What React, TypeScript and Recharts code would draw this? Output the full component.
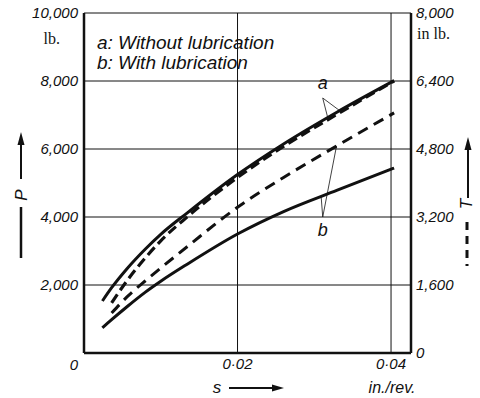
import React from 'react';
import { LineChart, Line, XAxis, YAxis, CartesianGrid, ReferenceLine, ReferenceDot } from 'recharts';

// feed s (in./rev.)
const feedRates = [0.0024, 0.0036, 0.0056, 0.008, 0.01, 0.0135, 0.02, 0.026, 0.033, 0.0404];
// thrust P (lb.) - solid lines
const thrustDry = [1530, 1920, 2480, 3060, 3490, 4130, 5250, 6150, 7090, 8010];
const thrustLub = [740, 980, 1360, 1790, 2110, 2620, 3500, 4160, 4790, 5440];
// torque T (in lb.) - dashed lines
const torqueDry = [null, 1180, 1700, 2240, 2640, 3210, 4130, 4860, 5620, 6400];
const torqueLub = [null, 940, 1320, 1700, 2000, 2510, 3430, 4130, 4880, 5650];

const sTicks = [0.02, 0.04];
const pTicks = [0, 2000, 4000, 6000, 8000, 10000];
const tTicks = [0, 1600, 3200, 4800, 6400, 8000];

const legendLines = ['a: Without lubrication', 'b: With lubrication'];

const rows = feedRates.map((s, i) => ({
  s,
  pDry: thrustDry[i],
  pLub: thrustLub[i],
  tDry: torqueDry[i],
  tLub: torqueLub[i],
}));

const FONT = '"Liberation Sans", Arial, sans-serif';
const INK = '#111';

const fmtNum = (v: number) => v.toLocaleString('en-US');

const LeftTick = (props: any) => {
  const { x, y, payload } = props;
  const zero = payload.value === 0;
  return (
    <text x={x} y={zero ? y + 12 : y} dy="0.36em" textAnchor="end"
      fontFamily={FONT} fontStyle="italic" fontSize={15} fill={INK}>
      {fmtNum(payload.value)}
    </text>
  );
};

const RightTick = (props: any) => {
  const { x, y, payload } = props;
  return (
    <text x={x} y={y} dy="0.36em" textAnchor="start"
      fontFamily={FONT} fontStyle="italic" fontSize={15} fill={INK}>
      {fmtNum(payload.value)}
    </text>
  );
};

const BottomTick = (props: any) => {
  const { x, y, payload } = props;
  return (
    <text x={x} y={y} dy="0.71em" textAnchor="middle"
      fontFamily={FONT} fontStyle="italic" fontSize={15} fill={INK}>
      {payload.value.toFixed(2).replace('.', '·')}
    </text>
  );
};

const letterLabel = (value: string) => ({
  value,
  position: 'center' as const,
  fontFamily: FONT,
  fontStyle: 'italic',
  fontSize: 18,
  fill: INK,
});

export default function App() {
  return (
    <div style={{ position: 'absolute', left: 0, top: 0, width: 480, height: 398, background: '#fff' }}>
      <LineChart width={480} height={398} data={rows}
        margin={{ top: 13, right: 10, bottom: 15, left: 10 }}>
        <CartesianGrid yAxisId="left" stroke="#111" strokeWidth={1} />
        <XAxis dataKey="s" type="number" domain={[0, 0.0426]} allowDataOverflow ticks={sTicks}
          tick={<BottomTick />} tickLine={false} tickSize={0} tickMargin={5} height={30}
          axisLine={{ stroke: INK, strokeWidth: 2.5 }} />
        <YAxis yAxisId="left" type="number" domain={[0, 10000]} ticks={pTicks} width={74}
          tick={<LeftTick />} tickLine={false} tickSize={0} tickMargin={6}
          axisLine={{ stroke: INK, strokeWidth: 2.5 }} />
        <YAxis yAxisId="right" orientation="right" type="number" domain={[0, 8000]} ticks={tTicks} width={59}
          tick={<RightTick />} tickLine={false} tickSize={0} tickMargin={5}
          axisLine={{ stroke: INK, strokeWidth: 2.5 }} />

        <Line yAxisId="left" dataKey="pDry" type="monotone" stroke={INK} strokeWidth={3}
          dot={false} isAnimationActive={false} />
        <Line yAxisId="left" dataKey="pLub" type="monotone" stroke={INK} strokeWidth={3}
          dot={false} isAnimationActive={false} />
        <Line yAxisId="right" dataKey="tDry" type="monotone" stroke={INK} strokeWidth={3.2}
          strokeDasharray="10 5" dot={false} isAnimationActive={false} />
        <Line yAxisId="right" dataKey="tLub" type="monotone" stroke={INK} strokeWidth={3}
          strokeDasharray="11 7" dot={false} isAnimationActive={false} />

        {/* leader lines for curve labels */}
        <ReferenceLine yAxisId="left" segment={[{ x: 0.0311, y: 7500 }, { x: 0.0333, y: 7130 }]} stroke={INK} strokeWidth={0.8} />
        <ReferenceLine yAxisId="left" segment={[{ x: 0.0311, y: 7500 }, { x: 0.0318, y: 6880 }]} stroke={INK} strokeWidth={0.8} />
        <ReferenceLine yAxisId="left" segment={[{ x: 0.0311, y: 4000 }, { x: 0.0309, y: 4580 }]} stroke={INK} strokeWidth={0.8} />
        <ReferenceLine yAxisId="left" segment={[{ x: 0.0311, y: 4000 }, { x: 0.0329, y: 6090 }]} stroke={INK} strokeWidth={0.8} />
        <ReferenceDot yAxisId="left" x={0.0311} y={7960} r={0} label={letterLabel('a')} />
        <ReferenceDot yAxisId="left" x={0.0311} y={3620} r={0} label={letterLabel('b')} />
      </LineChart>

      <svg width={480} height={398} style={{ position: 'absolute', left: 0, top: 0, pointerEvents: 'none' }}>
        <g fontFamily={FONT} fontStyle="italic" fill={INK}>
          {legendLines.map((t, i) => (
            <text key={t} x={97} y={49 + i * 20} fontSize={19}>{t}</text>
          ))}
          <text x={60} y={44} fontSize={16} fontStyle="normal" fontFamily='"Liberation Serif", serif' textAnchor="end">lb.</text>
          <text x={417} y={39} fontSize={16} fontStyle="normal" fontFamily='"Liberation Serif", serif'>in lb.</text>
          <text x={217} y={393} fontSize={17} textAnchor="middle">s</text>
          <text x={392} y={393} fontSize={16} textAnchor="middle">in./rev.</text>
          <text x={0} y={0} fontSize={17} textAnchor="middle" transform="translate(27,195) rotate(-90)">P</text>
          <text x={0} y={0} fontSize={17} textAnchor="middle" transform="translate(472,204) rotate(-90)">T</text>
        </g>
        {/* s arrow */}
        <line x1={229} y1={388} x2={275} y2={388} stroke={INK} strokeWidth={2} />
        <polygon points="284,388 272,384.5 272,391.5" fill={INK} />
        {/* P arrow */}
        <line x1={21} y1={142} x2={21} y2={179} stroke={INK} strokeWidth={2} />
        <polygon points="21,132 17.5,145 24.5,145" fill={INK} />
        <line x1={21} y1={207} x2={21} y2={258} stroke={INK} strokeWidth={2.5} />
        {/* T arrow */}
        <line x1={468} y1={147} x2={468} y2={198} stroke={INK} strokeWidth={2} />
        <polygon points="468,137 464.5,150 471.5,150" fill={INK} />
        <line x1={467} y1={222} x2={467} y2={266} stroke={INK} strokeWidth={3} strokeDasharray="8 6" />
      </svg>
    </div>
  );
}
